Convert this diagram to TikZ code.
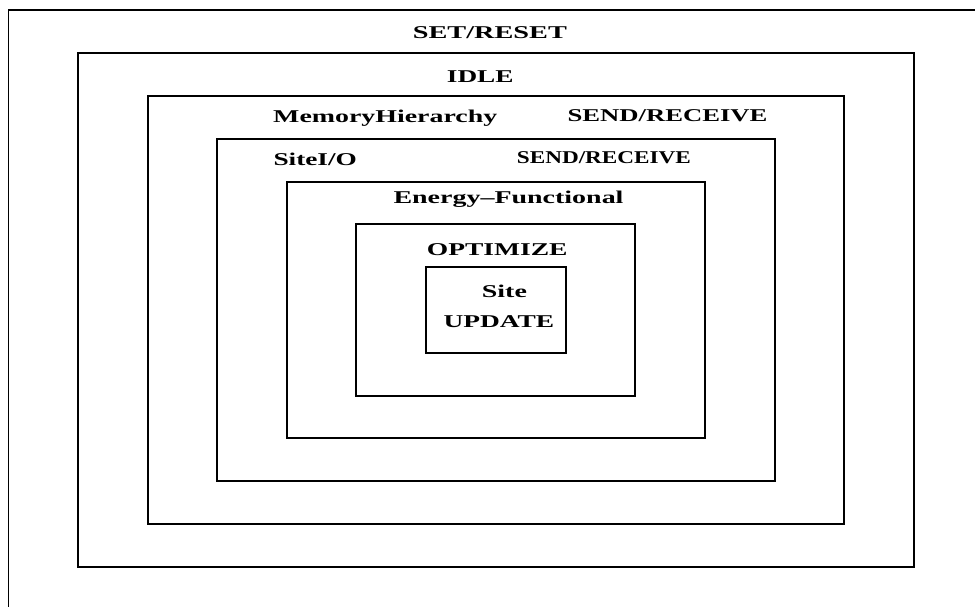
\documentclass[tikz,border=0pt]{standalone}
\usepackage{fontspec}
\usepackage{graphicx}
\setmainfont{Liberation Serif}
% bold serif label, stretched horizontally to a given width
\newcommand{\widelabel}[2]{\resizebox{#1pt}{\height}{#2}}
\begin{document}
\begin{tikzpicture}[x=1pt,y=-1pt,
  frame/.style={draw=black,line width=1.6pt},
  lbl/.style={inner sep=0pt,anchor=base west,font=\bfseries\fontsize{18}{18}\selectfont}]
  \useasboundingbox (0,0) rectangle (975,607);
  % open outer frame (top and left edges only)
  \coordinate (otl) at (8.5,10);
  \coordinate (otr) at (975,10);
  \coordinate (obl) at (8.5,607);
  \draw[frame] (otr) -- (otl) -- (obl);
  % nested state boxes
  \draw[frame] (78,53)   rectangle (914,567);
  \draw[frame] (148,96)  rectangle (844,524);
  \draw[frame] (217,139) rectangle (775,481);
  \draw[frame] (287,182) rectangle (705,438);
  \draw[frame] (356,224) rectangle (635,396);
  \draw[frame] (426,267) rectangle (566,353);
  % labels
  \node[lbl] (setreset) at (412.7,39)   {\widelabel{154}{SET/RESET}};
  \node[lbl] (idle)     at (446.7,82.7) {\widelabel{66.7}{IDLE}};
  \node[lbl] (memh)     at (273,122.3)  {\widelabel{224}{MemoryHierarchy}};
  \node[lbl] (sr1)      at (567.3,121.7){\widelabel{200}{SEND/RECEIVE}};
  \node[lbl] (siteio)   at (273.3,165.7){\widelabel{83.4}{SiteI/O}};
  \node[lbl] (sr2)      at (516.7,163.3){\widelabel{174}{SEND/RECEIVE}};
  \node[lbl] (energy)   at (393.3,203.3){\widelabel{230}{Energy--Functional}};
  \node[lbl] (optim)    at (426.7,255)  {\widelabel{140.6}{OPTIMIZE}};
  \node[lbl] (site)     at (481.7,297.3){\widelabel{45}{Site}};
  \node[lbl] (update)   at (443.3,327.3){\widelabel{110.7}{UPDATE}};
\end{tikzpicture}
\end{document}
